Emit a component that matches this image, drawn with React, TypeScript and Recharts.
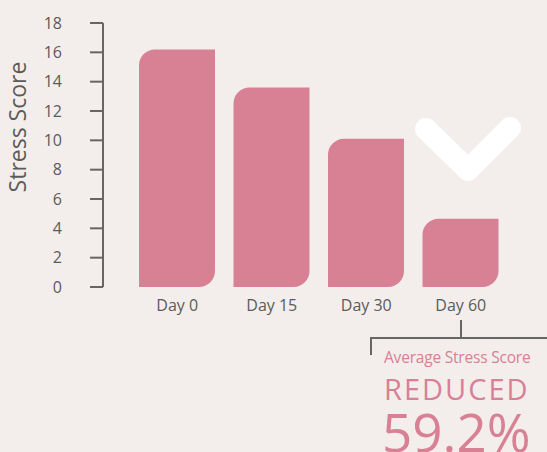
import { BarChart, Bar, XAxis, YAxis } from "recharts";

const days = ["Day 0", "Day 15", "Day 30", "Day 60"];
const stressScores = [16.2, 13.6, 10.1, 4.65];
const yTicks = [0, 2, 4, 6, 8, 10, 12, 14, 16, 18];

const data = days.map((day, i) => ({ day, score: stressScores[i] }));

const PINK = "#d88094";
const GRAY = "#5b5b5b";
const FONT = "'Open Sans', 'Noto Sans', sans-serif";

export default function App() {
  return (
    <div
      style={{
        position: "absolute",
        left: 0,
        top: 0,
        width: 547,
        height: 452,
        background: "#f3eeeb",
        overflow: "hidden",
        fontFamily: FONT,
      }}
    >
      <BarChart
        width={547}
        height={452}
        data={data}
        margin={{ top: 23, right: 39, left: 0, bottom: 134 }}
      >
        <XAxis
          dataKey="day"
          axisLine={false}
          tickLine={false}
          tickSize={0}
          tickMargin={13}
          height={31}
          padding={{ left: 27, right: 0 }}
          tick={{ fill: GRAY, fontSize: 16, fontFamily: FONT }}
        />
        <YAxis
          width={103}
          domain={[0, 18]}
          ticks={yTicks}
          interval={0}
          tickSize={13}
          tickMargin={28}
          axisLine={{ stroke: "#666", strokeWidth: 2 }}
          tickLine={{ stroke: "#666", strokeWidth: 2 }}
          tick={{ fill: GRAY, fontSize: 16, fontFamily: FONT }}
        />
        <Bar
          dataKey="score"
          fill={PINK}
          barSize={76}
          radius={[16, 0, 16, 0]}
          isAnimationActive={false}
        />
      </BarChart>

      <svg
        width={547}
        height={452}
        style={{ position: "absolute", left: 0, top: 0, pointerEvents: "none" }}
      >
        <text
          x={0}
          y={0}
          transform="translate(26 127) rotate(-90)"
          textAnchor="middle"
          fill={GRAY}
          fontSize={23}
          fontFamily={FONT}
        >
          Stress Score
        </text>

        {/* chevron */}
        <polyline
          points="426,129 468,170 510,128"
          fill="none"
          stroke="#ffffff"
          strokeWidth={22}
          strokeLinecap="round"
          strokeLinejoin="round"
        />

        {/* bracket */}
        <path
          d="M461 320 V338 M371 355 V338 H547"
          fill="none"
          stroke="#666"
          strokeWidth={2}
        />

        <text x={384} y={363} fill={PINK} fontSize={15.5} fontFamily={FONT} letterSpacing={-0.2}>
          Average Stress Score
        </text>
        <text x={384} y={400} fill={PINK} fontSize={29} fontFamily={FONT} letterSpacing={2}>
          REDUCED
        </text>
        <text x={382} y={452} fill={PINK} fontSize={53} fontFamily={FONT}>
          59.2%
        </text>
      </svg>
    </div>
  );
}
